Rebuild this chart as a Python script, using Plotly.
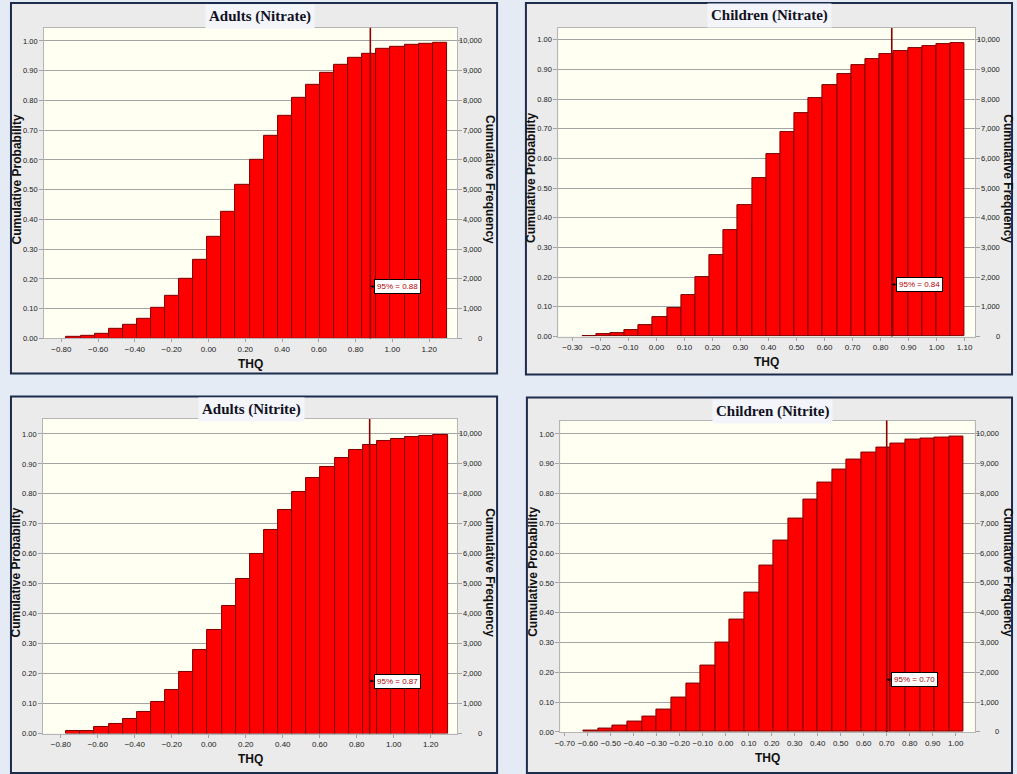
import plotly.graph_objects as go

W, H = 1017, 774
TRIALS = 10000

titles = ["Adults (Nitrate)", "Children (Nitrate)", "Adults (Nitrite)", "Children (Nitrite)"]

# Cumulative probability at the right edge of each histogram bin
adults_nitrate_cum = [0.006, 0.010, 0.017, 0.031, 0.046, 0.067, 0.104, 0.145, 0.200, 0.265,
                      0.342, 0.427, 0.516, 0.600, 0.680, 0.749, 0.810, 0.854, 0.892, 0.921,
                      0.943, 0.958, 0.972, 0.979, 0.987, 0.991, 0.994]
children_nitrate_cum = [0.003, 0.007, 0.013, 0.023, 0.039, 0.064, 0.095, 0.140, 0.199, 0.275,
                        0.358, 0.444, 0.535, 0.615, 0.688, 0.752, 0.802, 0.847, 0.885, 0.914,
                        0.936, 0.952, 0.961, 0.972, 0.980, 0.985, 0.988]
adults_nitrite_cum = [0.007, 0.010, 0.021, 0.031, 0.048, 0.072, 0.105, 0.147, 0.206, 0.279,
                      0.345, 0.426, 0.517, 0.601, 0.681, 0.746, 0.807, 0.854, 0.890, 0.920,
                      0.945, 0.964, 0.976, 0.983, 0.989, 0.993, 0.996]
children_nitrite_cum = [0.006, 0.012, 0.020, 0.034, 0.053, 0.076, 0.117, 0.162, 0.223, 0.299,
                        0.378, 0.467, 0.558, 0.641, 0.717, 0.780, 0.838, 0.880, 0.913, 0.936,
                        0.956, 0.967, 0.980, 0.984, 0.989, 0.992]
cum_series = [adults_nitrate_cum, children_nitrate_cum, adults_nitrite_cum, children_nitrite_cum]

# First bin edge and bin width (THQ units)
bin_start = [-0.772, -0.266, -0.771, -0.618]
bin_width = [0.0766, 0.0506, 0.0764, 0.0636]

# 95th percentile of THQ
p95 = [0.88, 0.84, 0.87, 0.70]

# THQ tick step per panel
x_dtick = [0.20, 0.10, 0.20, 0.10]

# Cumulative frequency tick values (right axis)
freq_ticks = [0, 1000, 2000, 3000, 4000, 5000, 6000, 7000, 8000, 9000, 10000]

# ---- layout geometry (pixels) ----
frames = [(5, 3, 494, 376), (523, 3, 1012, 377), (5, 399, 494, 778), (524, 400, 1012, 778)]
plots = [(38.3, 28.0, 454.0, 340.7), (555.7, 28.3, 975.0, 338.7),
         (37.3, 421.7, 454.0, 738.3), (557.7, 423.3, 974.3, 736.7)]
x_ranges = [(-0.894, 1.353), (-0.350, 1.138), (-0.896, 1.344), (-0.719, 1.082)]
y_tops = [1.044, 1.039, 1.050, 1.045]
title_pos = [(256, 16.5), (768, 16), (247, 412.5), (771, 414)]
label_level = 0.175

PAGE_BG = "#e5ebf5"
PANEL_BG = "#ebebeb"
PLOT_BG = "#fffff2"
FRAME = "#1d2b4c"
GRID = "#a3a3a3"
BAR = "#ff0000"
BAR_EDGE = "#7a0000"
LINE95 = "#8b0000"
SANS = "Liberation Sans, Arial, sans-serif"
TICK_FONT = dict(family=SANS, size=7.5, color="#1a1a1a")


def px_x(v):
    return v / W


def px_y(v):
    return 1 - v / H


def name(prefix, n, layout_key=False):
    if layout_key:
        return f"{prefix}axis" if n == 1 else f"{prefix}axis{n}"
    return prefix if n == 1 else f"{prefix}{n}"


fig = go.Figure()
layout = {}
shapes = []
annotations = []

for i in range(4):
    xn, yl, yr = i + 1, 2 * i + 1, 2 * i + 2
    xr, ylr, yrr = name("x", xn), name("y", yl), name("y", yr)
    x0p, y0p, x1p, y1p = plots[i]
    xmin, xmax = x_ranges[i]
    ytop = y_tops[i]
    cum = cum_series[i]
    w = bin_width[i]
    centres = [bin_start[i] + w * (k + 0.5) for k in range(len(cum))]

    # panel frame and plot background
    fx0, fy0, fx1, fy1 = frames[i]
    shapes.append(dict(type="rect", xref="paper", yref="paper", layer="below",
                       x0=px_x(fx0), x1=px_x(fx1), y0=px_y(fy1), y1=px_y(fy0),
                       fillcolor=PANEL_BG, line=dict(color=FRAME, width=2)))
    shapes.append(dict(type="rect", xref=f"{xr} domain", yref=f"{ylr} domain", layer="below",
                       x0=0, x1=1, y0=0, y1=1, fillcolor=PLOT_BG, line=dict(width=0)))

    fig.add_trace(go.Bar(x=centres, y=cum, width=w, xaxis=xr, yaxis=ylr,
                         marker=dict(color=BAR, line=dict(color=BAR_EDGE, width=1)),
                         showlegend=False, hoverinfo="skip"))

    # certainty grabbers at both ends of the frequency axis
    ppu = (x1p - x0p) / (xmax - xmin)
    fig.add_trace(go.Scatter(x=[xmin - 3.5 / ppu, xmax + 4.5 / ppu], y=[0, 0],
                             xaxis=xr, yaxis=yrr, mode="markers", cliponaxis=False,
                             marker=dict(symbol=["triangle-right", "triangle-left"], size=10,
                                         color="#3c3c3c"),
                             showlegend=False, hoverinfo="skip"))

    dom_x = [px_x(x0p), px_x(x1p)]
    dom_y = [px_y(y1p), px_y(y0p)]

    layout[name("x", xn, True)] = dict(
        domain=dom_x, range=[xmin, xmax], anchor=ylr, tick0=0, dtick=x_dtick[i],
        tickformat=".2f", tickfont=dict(TICK_FONT, size=8), tickangle=0, ticks="outside",
        ticklen=3, tickcolor=GRID, showgrid=False, zeroline=False, showline=True,
        linecolor="#b5b5b5", mirror=True, fixedrange=True)
    layout[name("y", yl, True)] = dict(
        domain=dom_y, range=[0, ytop], anchor=xr, tick0=0, dtick=0.1, tickformat=".2f",
        tickfont=TICK_FONT, ticks="outside", ticklen=4, tickcolor=GRID,
        showgrid=True, gridcolor=GRID, gridwidth=1, zeroline=False,
        showline=True, linecolor="#b5b5b5", mirror=True, fixedrange=True)
    layout[name("y", yr, True)] = dict(
        overlaying=ylr, side="right", anchor=xr, range=[0, ytop * TRIALS],
        tickmode="array", tickvals=freq_ticks, showticklabels=False,
        ticks="outside", ticklen=4, tickcolor=GRID, showgrid=False, zeroline=False,
        showline=False, fixedrange=True)

    # right-aligned frequency labels
    for v in freq_ticks:
        annotations.append(dict(xref="paper", yref=yrr, x=px_x(x1p + 27), y=v,
                                text=f"{v:,}", showarrow=False, xanchor="right",
                                yanchor="middle", font=TICK_FONT))

    # 95th percentile marker line and its label
    shapes.append(dict(type="line", xref=xr, yref=f"{ylr} domain", layer="above",
                       x0=p95[i], x1=p95[i], y0=0, y1=1,
                       line=dict(color=LINE95, width=1.6)))
    annotations.append(dict(xref=xr, yref=ylr, x=p95[i], y=label_level,
                            text=f"95% = {p95[i]:.2f}", showarrow=True, ax=4, ay=0,
                            arrowhead=2, arrowsize=0.6, arrowwidth=1, arrowcolor="#000000",
                            xanchor="left", yanchor="middle",
                            font=dict(family=SANS, size=8, color="#b00000"),
                            bgcolor="#ffffff", bordercolor="#000000", borderwidth=1,
                            borderpad=2))

    # panel title
    tx, ty = title_pos[i]
    annotations.append(dict(xref="paper", yref="paper", x=px_x(tx), y=px_y(ty),
                            text=f"<b>{titles[i]}</b>", showarrow=False,
                            xanchor="center", yanchor="middle",
                            font=dict(family="Liberation Serif, Times New Roman, serif",
                                      size=15, color="#111122"),
                            bgcolor="#f3f5fa", borderpad=3))

    # axis titles
    mid_y = px_y((y0p + y1p) / 2 - 4)
    annotations.append(dict(xref="paper", yref="paper", x=px_x(x0p - 27), y=mid_y,
                            text="<b>Cumulative Probability</b>", showarrow=False,
                            textangle=-90, xanchor="center", yanchor="middle",
                            font=dict(family=SANS, size=12, color="#111111")))
    annotations.append(dict(xref="paper", yref="paper", x=px_x(x1p + 33), y=mid_y,
                            text="<b>Cumulative Frequency</b>", showarrow=False,
                            textangle=90, xanchor="center", yanchor="middle",
                            font=dict(family=SANS, size=12, color="#111111")))
    annotations.append(dict(xref="paper", yref="paper", x=px_x((x0p + x1p) / 2),
                            y=px_y(y1p + 26), text="<b>THQ</b>", showarrow=False,
                            xanchor="center", yanchor="middle",
                            font=dict(family=SANS, size=12, color="#111111")))

fig.update_layout(
    width=W, height=H, margin=dict(l=0, r=0, t=0, b=0),
    paper_bgcolor=PAGE_BG, plot_bgcolor="rgba(0,0,0,0)",
    bargap=0, showlegend=False, shapes=shapes, annotations=annotations,
    **layout)

fig.write_html("out.html")
